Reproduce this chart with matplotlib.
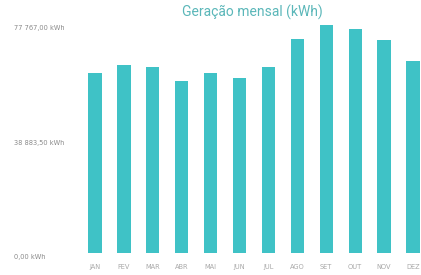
import matplotlib
matplotlib.use("Agg")
import matplotlib.pyplot as plt
import matplotlib.transforms as mtransforms

# monthly generation (kWh)
months = ["JAN", "FEV", "MAR", "ABR", "MAI", "JUN",
          "JUL", "AGO", "SET", "OUT", "NOV", "DEZ"]
generation = [61400, 64100, 63400, 58700, 61400, 59700,
              63400, 73000, 77767, 76400, 72700, 65500]
y_ticks = [0, 38883.5, 77767]
y_labels = ["0,00 kWh", "38 883,50 kWh", "77 767,00 kWh"]

W, H = 421, 275
fig = plt.figure(figsize=(W / 100, H / 100), dpi=100)
# plot area runs past the right edge like the cropped original
ax = fig.add_axes([80.5 / W, (H - 253) / H, 347 / W, 228 / H])

x = list(range(len(months)))
ax.bar(x, generation, width=0.46, color="#3fc2c6")
ax.set_xlim(-0.5, len(months) - 0.5)
ax.set_ylim(0, 77767)

ax.set_xticks(x)
ax.set_xticklabels(months, fontsize=4.8, color="#a8a8a8", family="DejaVu Sans")
ax.set_yticks(y_ticks)
ax.set_yticklabels(y_labels, fontsize=4.8, color="#8a8a8a", family="DejaVu Sans",
                   ha="left")
ax.tick_params(axis="x", length=0, pad=8)
ax.tick_params(axis="y", length=0, pad=48)
offset = mtransforms.ScaledTranslation(0, -3 / 100, fig.dpi_scale_trans)
for lbl in ax.get_yticklabels():
    lbl.set_transform(lbl.get_transform() + offset)

for s in ax.spines.values():
    s.set_visible(False)

fig.text(252 / W, 1 - 12 / H, "Geração mensal (kWh)", ha="center", va="center",
         fontsize=10, color="#5bb7b9", family="Roboto")

fig.savefig("out.png", dpi=100, facecolor="white")
